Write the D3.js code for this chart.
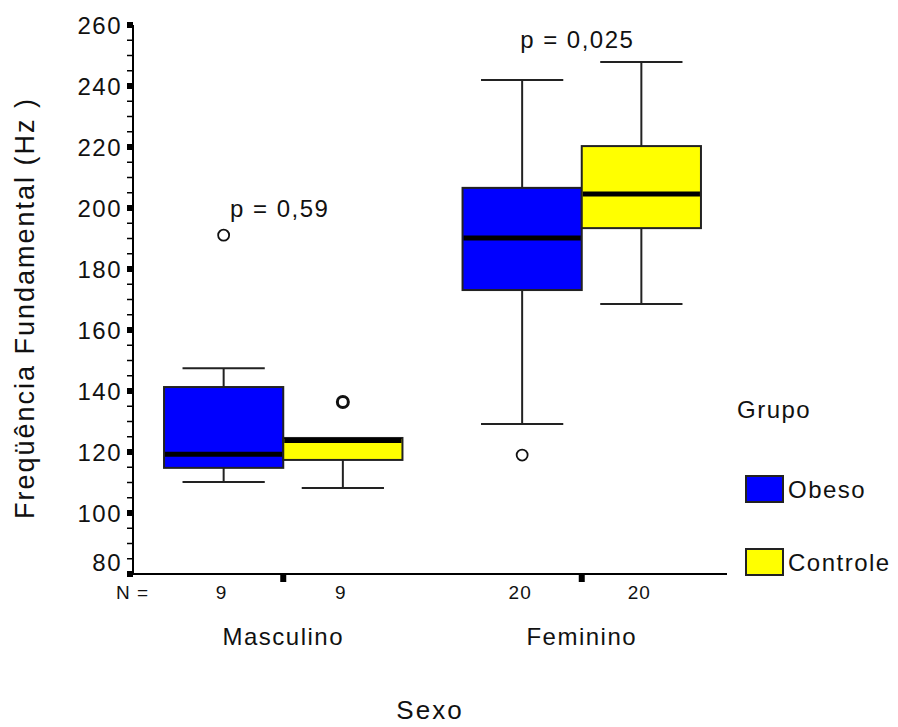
<!DOCTYPE html>
<html>
<head>
<meta charset="utf-8">
<script src="https://cdn.jsdelivr.net/npm/d3@7"></script>
<style>
  body { margin: 0; background: #fff; }
  text { font-family: "Liberation Sans", Arial, sans-serif; fill: #111; }
</style>
</head>
<body>
<script>
// data
var sexos = ["Masculino", "Feminino"];
var grupos = ["Obeso", "Controle"];
var nCounts = [[9, 9], [20, 20]];
// [whiskerLow, q1, median, q3, whiskerHigh]
var boxMasculino = [[110.2, 114.8, 119.3, 141.3, 147.5], [108.2, 117.4, 123.8, 124.6, 124.6]];
var boxFeminino = [[129.2, 173.1, 190.2, 206.6, 242.0], [168.5, 193.4, 204.6, 220.3, 247.9]];
var outliersMasculino = [[191.1], [136.4]];
var outliersFeminino = [[119.0], []];
var pValues = ["p = 0,59", "p = 0,025"];
var yTicks = [80, 100, 120, 140, 160, 180, 200, 220, 240, 260];
var colors = {"Obeso": "#0000ff", "Controle": "#ffff00"};

var svg = d3.select("body").append("svg").attr("width", 898).attr("height", 727);

var margin = {left: 133, top: 25, right: 168, bottom: 153};
var width = 898 - margin.left - margin.right,
    height = 727 - margin.top - margin.bottom;

var y = d3.scaleLinear().domain([80, 260]).range([margin.top + height, margin.top]);
var x = d3.scaleBand().domain(sexos).range([margin.left + 1, margin.left + width + 1]);
var xg = d3.scaleBand().domain(grupos).range([0, x.bandwidth()]).paddingOuter(0.252);

var data = [];
sexos.forEach(function(s, i) {
  var boxes = i == 0 ? boxMasculino : boxFeminino;
  var outs = i == 0 ? outliersMasculino : outliersFeminino;
  grupos.forEach(function(g, j) {
    data.push({sexo: s, grupo: g, stats: boxes[j], outliers: outs[j], n: nCounts[i][j]});
  });
});

var bw = xg.bandwidth();
var capW = bw * 0.69;

var box = svg.selectAll(".box").data(data).enter().append("g")
  .attr("class", "box")
  .attr("transform", function(d) { return "translate(" + (x(d.sexo) + xg(d.grupo)) + ",0)"; });

// whiskers
box.append("line")
  .attr("x1", bw / 2).attr("x2", bw / 2)
  .attr("y1", function(d) { return y(d.stats[0]); })
  .attr("y2", function(d) { return y(d.stats[4]); })
  .attr("stroke", "#222").attr("stroke-width", 2);
box.append("line")
  .attr("x1", (bw - capW) / 2).attr("x2", (bw + capW) / 2)
  .attr("y1", function(d) { return y(d.stats[0]); })
  .attr("y2", function(d) { return y(d.stats[0]); })
  .attr("stroke", "#222").attr("stroke-width", 2);
box.filter(function(d) { return d.stats[4] > d.stats[3]; }).append("line")
  .attr("x1", (bw - capW) / 2).attr("x2", (bw + capW) / 2)
  .attr("y1", function(d) { return y(d.stats[4]); })
  .attr("y2", function(d) { return y(d.stats[4]); })
  .attr("stroke", "#222").attr("stroke-width", 2);

box.append("rect")
  .attr("x", 0).attr("width", bw)
  .attr("y", function(d) { return y(d.stats[3]); })
  .attr("height", function(d) { return y(d.stats[1]) - y(d.stats[3]); })
  .attr("fill", function(d) { return colors[d.grupo]; })
  .attr("stroke", "#222").attr("stroke-width", 2);

box.append("line")
  .attr("x1", 1).attr("x2", bw - 1)
  .attr("y1", function(d) { return y(d.stats[2]); })
  .attr("y2", function(d) { return y(d.stats[2]); })
  .attr("stroke", "#000").attr("stroke-width", 5);

box.selectAll("circle").data(function(d) { return d.outliers; }).enter().append("circle")
  .attr("cx", bw / 2)
  .attr("cy", function(v) { return y(v); })
  .attr("r", 5.5)
  .attr("fill", "#fff")
  .attr("stroke", "#111")
  .attr("stroke-width", function() { return this.parentNode.__data__.grupo == "Controle" ? 3 : 1.8; });

// y axis
var ax = margin.left;
svg.append("line").attr("x1", ax).attr("x2", ax)
  .attr("y1", y(260)).attr("y2", y(80)).attr("stroke", "#000").attr("stroke-width", 2);
svg.selectAll(".minor").data(d3.range(85, 260, 5).filter(function(v) { return v % 20 != 0; }))
  .enter().append("line")
  .attr("x1", ax - 6).attr("x2", ax)
  .attr("y1", function(v) { return y(v); }).attr("y2", function(v) { return y(v); })
  .attr("stroke", "#000").attr("stroke-width", 1.5);
svg.selectAll(".major").data(yTicks).enter().append("rect")
  .attr("x", ax - 6).attr("width", 6)
  .attr("y", function(v) { return y(v) - 3; }).attr("height", 6)
  .attr("fill", "#000");
svg.selectAll(".ylab").data(yTicks).enter().append("text")
  .attr("x", ax - 11)
  .attr("y", function(v) { return y(v) + (v == 80 ? -12 : 0); })
  .attr("dy", "0.36em")
  .attr("text-anchor", "end")
  .style("font-size", "24px").style("letter-spacing", "1.5px")
  .text(function(v) { return v; });

// x axis
var baseY = y(80);
svg.append("line").attr("x1", ax - 1).attr("x2", x.range()[1] - 4)
  .attr("y1", baseY).attr("y2", baseY).attr("stroke", "#000").attr("stroke-width", 2);
svg.selectAll(".xtick").data(sexos).enter().append("rect")
  .attr("x", function(s) { return x(s) + x.bandwidth() / 2 - 3; })
  .attr("y", baseY).attr("width", 6).attr("height", 8)
  .attr("fill", "#000");

svg.selectAll(".xlab").data(sexos).enter().append("text")
  .attr("x", function(s) { return x(s) + x.bandwidth() / 2; })
  .attr("y", 645)
  .attr("text-anchor", "middle")
  .style("font-size", "24px").style("letter-spacing", "1.5px")
  .text(function(s) { return s; });

svg.append("text").attr("x", 149).attr("y", 599).attr("text-anchor", "end")
  .style("font-size", "19px").style("letter-spacing", "1px").text("N =");
svg.selectAll(".nlab").data(data).enter().append("text")
  .attr("x", function(d) { return x(d.sexo) + xg(d.grupo) + bw / 2 - 2; })
  .attr("y", 599)
  .attr("text-anchor", "middle")
  .style("font-size", "19px").style("letter-spacing", "1px")
  .text(function(d) { return d.n; });

// p values
svg.selectAll(".pval").data(sexos).enter().append("text")
  .attr("x", function(s, i) { return i == 0 ? 230 : x(s) + xg("Obeso") + bw / 2 - 2; })
  .attr("y", function(s, i) { return i == 0 ? 217 : 48; })
  .style("font-size", "24px").style("letter-spacing", "1.5px")
  .text(function(s, i) { return pValues[i]; });

// axis titles
svg.append("text").attr("x", 430).attr("y", 719).attr("text-anchor", "middle")
  .style("font-size", "26px").style("letter-spacing", "2px").text("Sexo");
svg.append("text").attr("transform", "translate(34,308) rotate(-90)")
  .attr("text-anchor", "middle")
  .style("font-size", "27px").style("letter-spacing", "2px").text("Freqüência Fundamental (Hz )");

// legend
var legend = svg.append("g").attr("transform", "translate(737,0)");
legend.append("text").attr("x", 0).attr("y", 418)
  .style("font-size", "24px").style("letter-spacing", "1.5px").text("Grupo");
var li = legend.selectAll(".li").data(grupos).enter().append("g")
  .attr("transform", function(g, i) { return "translate(0," + (476 + i * 73) + ")"; });
li.append("rect").attr("x", 9).attr("y", 0).attr("width", 37).attr("height", 26)
  .attr("fill", function(g) { return colors[g]; })
  .attr("stroke", "#222").attr("stroke-width", 2);
li.append("text").attr("x", 51).attr("y", 13).attr("dy", "0.36em")
  .style("font-size", "24px").style("letter-spacing", "1.5px")
  .text(function(g) { return g; });
</script>
</body>
</html>
